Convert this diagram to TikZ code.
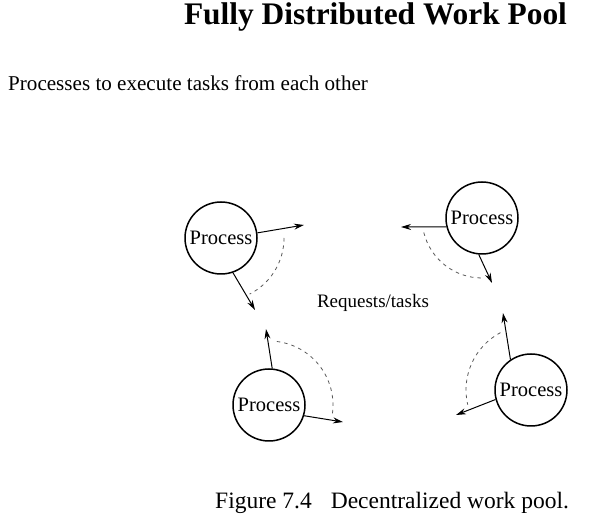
\documentclass[tikz,border=0pt]{standalone}
\usepackage{fontspec}
\setmainfont{Liberation Serif}
\usetikzlibrary{arrows.meta}
\begin{document}
\begin{tikzpicture}[x=1pt,y=1pt,
  proc/.style={draw,circle,line width=1.5pt,minimum size=72pt,inner sep=0pt,
    font=\fontsize{20.5}{24}\selectfont},
  req/.style={-{Stealth[length=10pt,width=6pt]},line width=1pt},
  back/.style={dash pattern=on 3.5pt off 4pt,line width=0.8pt,draw=black!65},
  txt/.style={inner sep=0pt}]
\useasboundingbox (0,0) rectangle (605,522);
% texts
\node[txt,anchor=base,font=\fontsize{31.4}{36}\selectfont\bfseries] (title) at (375.5,497) {Fully Distributed Work Pool};
\node[txt,anchor=base west,font=\fontsize{21.1}{25}\selectfont] (sub) at (8,431) {Processes to execute tasks from each other};
\node[txt,anchor=base,font=\fontsize{19}{23}\selectfont] (rt) at (373,214) {Requests/tasks};
\node[txt,anchor=base west,font=\fontsize{23.5}{28}\selectfont] (cap) at (215,13) {Figure 7.4\hspace{19pt}Decentralized work pool.};
% processes
\node[proc] (p1) at (221,284) {Process};
\node[proc] (p2) at (482,304) {Process};
\node[proc] (p3) at (269,117) {Process};
\node[proc] (p4) at (531,132) {Process};
% arrow end points
\coordinate (a1) at (304,297);
\coordinate (a2) at (255,212);
\coordinate (b1) at (401,295);
\coordinate (b2) at (492,239);
\coordinate (c1) at (266,193);
\coordinate (c2) at (343,100);
\coordinate (d1) at (503,209);
\coordinate (d2) at (456,107);
% arrows
\draw[req] (p1.8) -- (a1);
\draw[req] (p1.-71) -- (a2);
\draw[req] (p2.194) -- (b1);
\draw[req] (p2.265) -- (b2);
\draw[req] (p3.85) -- (c1);
\draw[req] (p3.-17) -- (c2);
\draw[req] (p4.124) -- (d1);
\draw[req] (p4.195) -- (d2);
% dashed arcs
\draw[back] (p1.center) ++(0:63) arc[start angle=0,end angle=-63,radius=63];
\draw[back] (p2.center) ++(194:60) arc[start angle=194,end angle=270,radius=60];
\draw[back] (p3.center) ++(83:64) arc[start angle=83,end angle=-10,radius=64];
\draw[back] (p4.center) ++(118:65) arc[start angle=118,end angle=193,radius=65];
\end{tikzpicture}
\end{document}
